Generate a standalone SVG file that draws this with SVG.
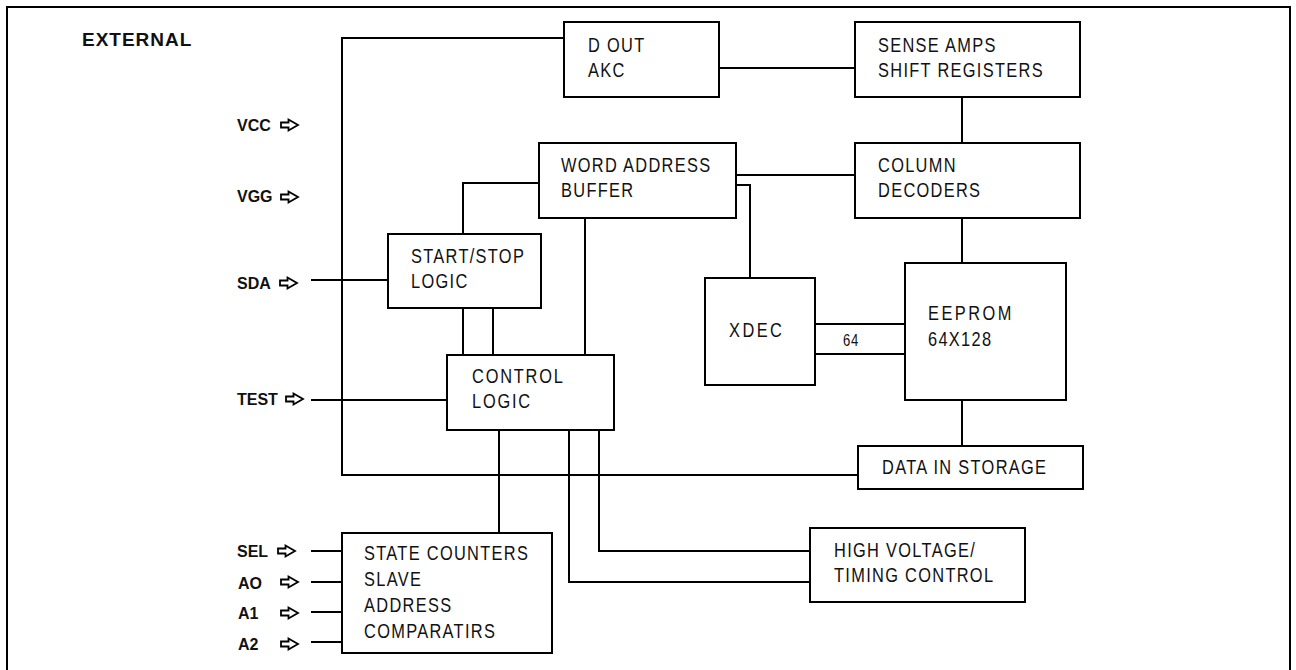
<svg xmlns="http://www.w3.org/2000/svg" xmlns:xlink="http://www.w3.org/1999/xlink" width="1296" height="670" viewBox="0 0 1296 670">
<style>
.box{fill:#fff;stroke:#000;stroke-width:2}
.ln{fill:none;stroke:#000;stroke-width:2}
.t{font-family:"Liberation Sans",Arial,sans-serif;font-size:20px;letter-spacing:1.6px;fill:#111}
.w{letter-spacing:3px}
.pin{font-family:"Liberation Sans",Arial,sans-serif;font-size:16px;font-weight:bold;fill:#111}
.ext{font-family:"Liberation Sans",Arial,sans-serif;font-size:19px;font-weight:bold;letter-spacing:1px;fill:#111}
.small{font-family:"Liberation Sans",Arial,sans-serif;font-size:16px;letter-spacing:1px;fill:#111}
</style>
<defs>
<path id="arr" d="M0,-2.5 H7.5 V-5.5 L17,0 L7.5,5.5 V2.5 H0 Z" fill="#fff" stroke="#000" stroke-width="1.8" stroke-linejoin="miter"/>
</defs>
<rect x="7" y="7" width="1283" height="680" fill="none" stroke="#000" stroke-width="2"/>
<text class="ext" x="82" y="46">EXTERNAL</text>
<g id="connectors">
<polyline class="ln" points="564,38 342,38 342,475 858,475"/>
<line class="ln" x1="719" y1="68" x2="855" y2="68"/>
<line class="ln" x1="962" y1="97" x2="962" y2="143"/>
<line class="ln" x1="736" y1="175" x2="855" y2="175"/>
<polyline class="ln" points="736,185 750,185 750,278"/>
<line class="ln" x1="962" y1="218" x2="962" y2="263"/>
<line class="ln" x1="815" y1="324" x2="905" y2="324"/>
<line class="ln" x1="815" y1="354" x2="905" y2="354"/>
<line class="ln" x1="962" y1="400" x2="962" y2="446"/>
<line class="ln" x1="311" y1="280" x2="388" y2="280"/>
<polyline class="ln" points="463,234 463,183 539,183"/>
<line class="ln" x1="463" y1="308" x2="463" y2="355"/>
<line class="ln" x1="493" y1="308" x2="493" y2="355"/>
<line class="ln" x1="585" y1="218" x2="585" y2="355"/>
<line class="ln" x1="311" y1="400" x2="447" y2="400"/>
<line class="ln" x1="499" y1="430" x2="499" y2="533"/>
<polyline class="ln" points="599,430 599,551 810,551"/>
<polyline class="ln" points="569,430 569,582 810,582"/>
<line class="ln" x1="311" y1="551" x2="342" y2="551"/>
<line class="ln" x1="311" y1="582" x2="342" y2="582"/>
<line class="ln" x1="311" y1="612" x2="342" y2="612"/>
<line class="ln" x1="311" y1="642" x2="342" y2="642"/>
<text class="small" transform="matrix(0.82 0 0 1 843 346)">64</text>
</g>
<g id="pins">
<text class="pin" x="237" y="131">VCC</text><use xlink:href="#arr" x="281" y="125"/>
<text class="pin" x="237" y="202">VGG</text><use xlink:href="#arr" x="281" y="197"/>
<text class="pin" x="237" y="289">SDA</text><use xlink:href="#arr" x="280" y="283"/>
<text class="pin" x="237" y="405">TEST</text><use xlink:href="#arr" x="286" y="399"/>
<text class="pin" x="237" y="557">SEL</text><use xlink:href="#arr" x="278" y="551"/>
<text class="pin" x="238" y="589">AO</text><use xlink:href="#arr" x="281" y="582"/>
<text class="pin" x="238" y="619">A1</text><use xlink:href="#arr" x="281" y="613"/>
<text class="pin" x="238" y="650">A2</text><use xlink:href="#arr" x="281" y="644"/>
</g>
<g id="dout"><rect class="box" x="564" y="22" width="155" height="75"/><text class="t" transform="matrix(0.82 0 0 1 588 52)">D OUT</text><text class="t" transform="matrix(0.82 0 0 1 588 77)">AKC</text></g>
<g id="sense"><rect class="box" x="855" y="22" width="225" height="75"/><text class="t" transform="matrix(0.82 0 0 1 878 52)">SENSE AMPS</text><text class="t" transform="matrix(0.82 0 0 1 878 77)">SHIFT REGISTERS</text></g>
<g id="wab"><rect class="box" x="539" y="143" width="197" height="75"/><text class="t" transform="matrix(0.82 0 0 1 561 172)">WORD ADDRESS</text><text class="t" transform="matrix(0.82 0 0 1 561 197)">BUFFER</text></g>
<g id="coldec"><rect class="box" x="855" y="143" width="225" height="75"/><text class="t" transform="matrix(0.82 0 0 1 878 172)">COLUMN</text><text class="t" transform="matrix(0.82 0 0 1 878 197)">DECODERS</text></g>
<g id="startstop"><rect class="box" x="388" y="234" width="153" height="74"/><text class="t" transform="matrix(0.82 0 0 1 411 263)">START/STOP</text><text class="t" transform="matrix(0.82 0 0 1 411 288)">LOGIC</text></g>
<g id="xdec"><rect class="box" x="705" y="278" width="110" height="107"/><text class="t w" transform="matrix(0.82 0 0 1 729 337)">XDEC</text></g>
<g id="eeprom"><rect class="box" x="905" y="263" width="161" height="137"/><text class="t w" transform="matrix(0.82 0 0 1 928 320)">EEPROM</text><text class="t" transform="matrix(0.82 0 0 1 928 346)">64X128</text></g>
<g id="control"><rect class="box" x="447" y="355" width="167" height="75"/><text class="t" transform="matrix(0.82 0 0 1 472 383)" style="letter-spacing:2.2px">CONTROL</text><text class="t" transform="matrix(0.82 0 0 1 472 408)" style="letter-spacing:2.2px">LOGIC</text></g>
<g id="datain"><rect class="box" x="858" y="446" width="225" height="43"/><text class="t" transform="matrix(0.82 0 0 1 882 474)">DATA IN STORAGE</text></g>
<g id="hv"><rect class="box" x="810" y="528" width="215" height="74"/><text class="t" transform="matrix(0.82 0 0 1 834 557)">HIGH VOLTAGE/</text><text class="t" transform="matrix(0.82 0 0 1 834 582)">TIMING CONTROL</text></g>
<g id="state"><rect class="box" x="342" y="533" width="210" height="120"/><text class="t" transform="matrix(0.82 0 0 1 364 560)">STATE COUNTERS</text><text class="t" transform="matrix(0.82 0 0 1 364 586)">SLAVE</text><text class="t" transform="matrix(0.82 0 0 1 364 612)">ADDRESS</text><text class="t" transform="matrix(0.82 0 0 1 364 638)">COMPARATIRS</text></g>
</svg>
